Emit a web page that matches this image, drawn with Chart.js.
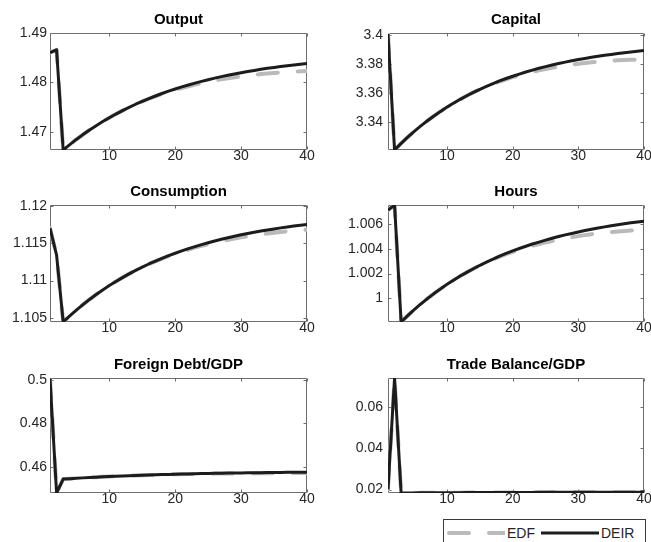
<!DOCTYPE html>
<html>
<head>
<meta charset="utf-8">
<title>EDF x DEIR</title>
<script src="https://cdn.jsdelivr.net/npm/chart.js@4.4.1/dist/chart.umd.min.js"></script>
<style>
  html, body { margin: 0; padding: 0; background: #fff; }
  #fig { position: relative; width: 651px; height: 542px; overflow: hidden; }
  #fig canvas.panel { position: absolute; }
  #output { left: 0; top: 0; }
  #capital { left: 330px; top: 0; }
  #consumption { left: 0; top: 172px; }
  #hours { left: 330px; top: 172px; }
  #debt { left: 0; top: 345px; }
  #tb { left: 330px; top: 345px; }
  #legend {
    position: absolute; left: 443px; top: 519px; width: 201px; height: 26px;
    border: 1px solid #3a3a3a; background: #fff;
    display: flex; align-items: center;
    font: 14px "Liberation Sans", Arial, sans-serif; color: #262626;
  }
  #legend .item { display: flex; align-items: center; }
  #legend .item:first-child { margin-left: 3px; }
  #legend .item + .item { margin-left: 6px; }
  #legend canvas { display: block; margin-right: 2px; }
</style>
</head>
<body>
<div id="fig">
  <canvas class="panel" id="output" width="320" height="175"></canvas>
  <canvas class="panel" id="capital" width="321" height="175"></canvas>
  <canvas class="panel" id="consumption" width="320" height="175"></canvas>
  <canvas class="panel" id="hours" width="321" height="175"></canvas>
  <canvas class="panel" id="debt" width="320" height="175"></canvas>
  <canvas class="panel" id="tb" width="321" height="175"></canvas>
  <div id="legend"></div>
</div>
<script>
// periodos (trimestres) e ticks do eixo x
var periods = [1, 2, 3, 4, 5, 6, 7, 8, 9, 10, 11, 12, 13, 14, 15, 16, 17, 18, 19, 20,
               21, 22, 23, 24, 25, 26, 27, 28, 29, 30, 31, 32, 33, 34, 35, 36, 37, 38, 39, 40];
var xTicks = [10, 20, 30, 40];

// Output
var outputDEIR = [1.48600, 1.48660, 1.46630, 1.46740, 1.46844, 1.46942, 1.47035, 1.47123, 1.47206, 1.47284,
                  1.47358, 1.47428, 1.47494, 1.47557, 1.47616, 1.47671, 1.47724, 1.47774, 1.47821, 1.47866,
                  1.47908, 1.47947, 1.47985, 1.48020, 1.48054, 1.48086, 1.48116, 1.48144, 1.48171, 1.48196,
                  1.48220, 1.48242, 1.48264, 1.48284, 1.48303, 1.48321, 1.48338, 1.48354, 1.48369, 1.48383];
var outputEDF  = [1.48600, 1.48660, 1.46630, 1.46740, 1.46844, 1.46942, 1.47035, 1.47123, 1.47206, 1.47284,
                  1.47358, 1.47428, 1.47494, 1.47557, 1.47615, 1.47668, 1.47718, 1.47765, 1.47808, 1.47849,
                  1.47886, 1.47921, 1.47954, 1.47983, 1.48012, 1.48038, 1.48062, 1.48083, 1.48104, 1.48122,
                  1.48139, 1.48153, 1.48168, 1.48180, 1.48191, 1.48201, 1.48210, 1.48217, 1.48224, 1.48229];
var outputTicks = [1.47, 1.48, 1.49];
var outputRange = [1.4663, 1.49];

// Capital
var capitalDEIR = [3.40050, 3.32103, 3.32555, 3.32979, 3.33378, 3.33753, 3.34106, 3.34437, 3.34749, 3.35042,
                   3.35317, 3.35576, 3.35819, 3.36048, 3.36263, 3.36465, 3.36655, 3.36833, 3.37001, 3.37159,
                   3.37307, 3.37446, 3.37577, 3.37701, 3.37816, 3.37925, 3.38027, 3.38124, 3.38214, 3.38299,
                   3.38379, 3.38454, 3.38524, 3.38591, 3.38653, 3.38712, 3.38767, 3.38819, 3.38867, 3.38913];
var capitalEDF  = [3.40050, 3.32103, 3.32555, 3.32979, 3.33378, 3.33753, 3.34106, 3.34437, 3.34749, 3.35042,
                   3.35317, 3.35576, 3.35819, 3.36048, 3.36259, 3.36452, 3.36632, 3.36797, 3.36950, 3.37093,
                   3.37223, 3.37344, 3.37455, 3.37558, 3.37651, 3.37737, 3.37815, 3.37887, 3.37951, 3.38009,
                   3.38062, 3.38108, 3.38149, 3.38186, 3.38218, 3.38245, 3.38268, 3.38287, 3.38301, 3.38313];
var capitalTicks = [3.34, 3.36, 3.38, 3.4];
var capitalRange = [3.32103, 3.4012];

// Consumption
var consumptionDEIR = [1.11700, 1.11340, 1.10445, 1.10527, 1.10605, 1.10678, 1.10747, 1.10812, 1.10874, 1.10932,
                       1.10987, 1.11039, 1.11089, 1.11135, 1.11179, 1.11221, 1.11260, 1.11297, 1.11332, 1.11365,
                       1.11396, 1.11426, 1.11454, 1.11480, 1.11505, 1.11529, 1.11551, 1.11572, 1.11592, 1.11611,
                       1.11629, 1.11645, 1.11661, 1.11676, 1.11690, 1.11704, 1.11717, 1.11729, 1.11740, 1.11750];
var consumptionEDF  = [1.11700, 1.11340, 1.10445, 1.10527, 1.10605, 1.10678, 1.10747, 1.10812, 1.10874, 1.10932,
                       1.10987, 1.11039, 1.11089, 1.11135, 1.11178, 1.11220, 1.11257, 1.11293, 1.11326, 1.11357,
                       1.11386, 1.11414, 1.11440, 1.11463, 1.11486, 1.11507, 1.11526, 1.11544, 1.11561, 1.11577,
                       1.11592, 1.11605, 1.11617, 1.11629, 1.11639, 1.11650, 1.11659, 1.11667, 1.11674, 1.11680];
var consumptionTicks = [1.105, 1.11, 1.115, 1.12];
var consumptionRange = [1.10445, 1.1201];

// Hours
var hoursDEIR = [1.00713, 1.00755, 0.99808, 0.99859, 0.99908, 0.99954, 0.99997, 1.00038, 1.00076, 1.00113,
                 1.00147, 1.00180, 1.00210, 1.00239, 1.00267, 1.00293, 1.00317, 1.00341, 1.00363, 1.00383,
                 1.00403, 1.00421, 1.00439, 1.00455, 1.00471, 1.00486, 1.00500, 1.00513, 1.00525, 1.00537,
                 1.00548, 1.00559, 1.00569, 1.00578, 1.00587, 1.00595, 1.00603, 1.00611, 1.00618, 1.00624];
var hoursEDF  = [1.00713, 1.00755, 0.99808, 0.99859, 0.99908, 0.99954, 0.99997, 1.00038, 1.00076, 1.00113,
                 1.00147, 1.00180, 1.00210, 1.00239, 1.00266, 1.00292, 1.00314, 1.00337, 1.00357, 1.00375,
                 1.00393, 1.00409, 1.00425, 1.00438, 1.00452, 1.00464, 1.00475, 1.00485, 1.00494, 1.00503,
                 1.00511, 1.00519, 1.00525, 1.00531, 1.00536, 1.00541, 1.00545, 1.00549, 1.00552, 1.00554];
var hoursTicks = [1, 1.002, 1.004, 1.006];
var hoursRange = [0.99808, 1.00755];

// Foreign Debt/GDP
var debtDEIR = [0.50080, 0.44790, 0.45430, 0.45450, 0.45469, 0.45487, 0.45504, 0.45520, 0.45535, 0.45549,
                0.45563, 0.45576, 0.45588, 0.45599, 0.45610, 0.45620, 0.45630, 0.45639, 0.45647, 0.45656,
                0.45663, 0.45670, 0.45677, 0.45684, 0.45690, 0.45696, 0.45701, 0.45706, 0.45711, 0.45716,
                0.45720, 0.45724, 0.45728, 0.45732, 0.45735, 0.45739, 0.45742, 0.45745, 0.45747, 0.45750];
var debtEDF  = [0.50080, 0.44790, 0.45430, 0.45450, 0.45469, 0.45487, 0.45504, 0.45520, 0.45535, 0.45549,
                0.45563, 0.45576, 0.45588, 0.45599, 0.45610, 0.45619, 0.45628, 0.45637, 0.45644, 0.45652,
                0.45657, 0.45663, 0.45669, 0.45674, 0.45679, 0.45683, 0.45687, 0.45690, 0.45693, 0.45697,
                0.45699, 0.45701, 0.45703, 0.45705, 0.45706, 0.45707, 0.45708, 0.45709, 0.45710, 0.45711];
var debtTicks = [0.46, 0.48, 0.5];
var debtRange = [0.4479, 0.5009];

// Trade Balance/GDP
var tbDEIR = [0.02010, 0.07430, 0.01830, 0.01832, 0.01835, 0.01837, 0.01839, 0.01841, 0.01843, 0.01845,
              0.01846, 0.01848, 0.01849, 0.01851, 0.01852, 0.01853, 0.01855, 0.01856, 0.01857, 0.01858,
              0.01859, 0.01860, 0.01860, 0.01861, 0.01862, 0.01863, 0.01863, 0.01864, 0.01865, 0.01865,
              0.01866, 0.01866, 0.01867, 0.01867, 0.01868, 0.01868, 0.01868, 0.01869, 0.01869, 0.01869];
var tbEDF  = [0.02010, 0.07430, 0.01830, 0.01832, 0.01835, 0.01837, 0.01839, 0.01841, 0.01843, 0.01845,
              0.01846, 0.01848, 0.01849, 0.01851, 0.01852, 0.01853, 0.01855, 0.01856, 0.01857, 0.01858,
              0.01857, 0.01858, 0.01858, 0.01859, 0.01860, 0.01861, 0.01861, 0.01862, 0.01862, 0.01863,
              0.01863, 0.01863, 0.01864, 0.01864, 0.01865, 0.01865, 0.01865, 0.01866, 0.01866, 0.01866];
var tbTicks = [0.02, 0.04, 0.06];
var tbRange = [0.0183, 0.0743];

var panels = [
  { id: 'output',      title: 'Output',            edf: outputEDF,      deir: outputDEIR,      yTicks: outputTicks,      range: outputRange,      col: 0, row: 0 },
  { id: 'capital',     title: 'Capital',           edf: capitalEDF,     deir: capitalDEIR,     yTicks: capitalTicks,     range: capitalRange,     col: 1, row: 0 },
  { id: 'consumption', title: 'Consumption',       edf: consumptionEDF, deir: consumptionDEIR, yTicks: consumptionTicks, range: consumptionRange, col: 0, row: 1 },
  { id: 'hours',       title: 'Hours',             edf: hoursEDF,       deir: hoursDEIR,       yTicks: hoursTicks,       range: hoursRange,       col: 1, row: 1 },
  { id: 'debt',        title: 'Foreign Debt/GDP',  edf: debtEDF,        deir: debtDEIR,        yTicks: debtTicks,        range: debtRange,        col: 0, row: 2 },
  { id: 'tb',          title: 'Trade Balance/GDP', edf: tbEDF,          deir: tbDEIR,          yTicks: tbTicks,          range: tbRange,          col: 1, row: 2 }
];

// layout das colunas / linhas (estilo matlab subplot)
var cols = [ { yAxisWidth: 50, padRight: 13, labelPad: 3 },
             { yAxisWidth: 58, padRight: 7,  labelPad: 5 } ];
var rows = [ { xAxisHeight: 25 }, { xAxisHeight: 25 }, { xAxisHeight: 27 } ];

var textColor = '#262626';
var axisColor = '#6e6e6e';
var edfColor = '#bababa';
var deirColor = '#1c1c1c';

Chart.defaults.font.family = '"Liberation Sans", Arial, Helvetica, sans-serif';

// caixa fechada com ticks para dentro, como no matlab
var axesBox = {
  id: 'axesBox',
  beforeDatasetsDraw: function(chart) {
    var ctx = chart.ctx, a = chart.chartArea;
    var x = chart.scales.x, y = chart.scales.y;
    var l = Math.round(a.left) + 0.5, r = Math.round(a.right) - 0.5;
    var t = Math.round(a.top) + 0.5, b = Math.round(a.bottom) - 0.5;
    var len = 3;
    ctx.save();
    ctx.strokeStyle = axisColor;
    ctx.lineWidth = 1;
    ctx.beginPath();
    ctx.rect(l, t, r - l, b - t);
    x.ticks.forEach(function(tk) {
      var px = Math.round(x.getPixelForValue(tk.value)) + 0.5;
      ctx.moveTo(px, b); ctx.lineTo(px, b - len);
      ctx.moveTo(px, t); ctx.lineTo(px, t + len);
    });
    y.ticks.forEach(function(tk) {
      var py = Math.round(y.getPixelForValue(tk.value)) + 0.5;
      ctx.moveTo(l, py); ctx.lineTo(l + len, py);
      ctx.moveTo(r, py); ctx.lineTo(r - len, py);
    });
    ctx.stroke();
    ctx.restore();
  }
};

function toPoints(values) {
  return periods.map(function(p, i) { return { x: p, y: values[i] }; });
}

function makeChart(panel) {
  var col = cols[panel.col], row = rows[panel.row];
  return new Chart(document.getElementById(panel.id), {
    type: 'line',
    data: {
      datasets: [{
        label: 'EDF',
        data: toPoints(panel.edf),
        borderColor: edfColor,
        borderWidth: 4,
        borderDash: [20, 20],
        borderCapStyle: 'round',
        order: 1
      }, {
        label: 'DEIR',
        data: toPoints(panel.deir),
        borderColor: deirColor,
        borderWidth: 3,
        order: 0
      }]
    },
    options: {
      responsive: false,
      animation: false,
      events: [],
      layout: { padding: { left: 0, top: 0, bottom: 0, right: col.padRight } },
      elements: {
        point: { radius: 0 },
        line: { tension: 0, borderJoinStyle: 'round', fill: false }
      },
      plugins: {
        legend: { display: false },
        tooltip: { enabled: false },
        title: {
          display: true,
          text: panel.title,
          fullSize: false,
          color: '#000',
          font: { size: 15, weight: 'bold' },
          padding: { top: 11, bottom: 4 }
        }
      },
      scales: {
        x: {
          type: 'linear',
          min: 1,
          max: 40,
          grid: { display: false, drawTicks: false },
          border: { display: false },
          afterBuildTicks: function(s) { s.ticks = xTicks.map(function(v) { return { value: v }; }); },
          afterFit: function(s) { s.height = row.xAxisHeight; s.paddingLeft = 0; s.paddingRight = 0; },
          ticks: {
            autoSkip: false, maxRotation: 0, minRotation: 0, padding: -2,
            color: textColor, font: { size: 14 },
            callback: function(v) { return String(v); }
          }
        },
        y: {
          type: 'linear',
          min: panel.range[0],
          max: panel.range[1],
          grid: { display: false, drawTicks: false },
          border: { display: false },
          afterBuildTicks: function(s) { s.ticks = panel.yTicks.map(function(v) { return { value: v }; }); },
          afterFit: function(s) { s.width = col.yAxisWidth; s.paddingTop = 0; s.paddingBottom = 0; },
          ticks: {
            autoSkip: false, padding: col.labelPad,
            color: textColor, font: { size: 14 },
            callback: function(v) { return String(v); }
          }
        }
      }
    },
    plugins: [axesBox]
  });
}

// legenda html montada a partir dos datasets do ultimo grafico
function buildLegend(chart) {
  var box = document.getElementById('legend');
  chart.data.datasets.forEach(function(ds) {
    var item = document.createElement('div');
    item.className = 'item';
    var c = document.createElement('canvas');
    c.width = 58; c.height = 10;
    var g = c.getContext('2d');
    g.strokeStyle = ds.borderColor;
    g.lineWidth = ds.borderWidth;
    g.lineCap = ds.borderCapStyle || 'butt';
    g.setLineDash(ds.borderDash || []);
    g.beginPath();
    var pad = ds.borderCapStyle === 'round' ? 2 : 0;
    g.moveTo(pad, 5); g.lineTo(58, 5);
    g.stroke();
    var txt = document.createElement('span');
    txt.textContent = ds.label;
    item.appendChild(c);
    item.appendChild(txt);
    box.appendChild(item);
  });
}

var charts = panels.map(makeChart);
buildLegend(charts[charts.length - 1]);
</script>
</body>
</html>
